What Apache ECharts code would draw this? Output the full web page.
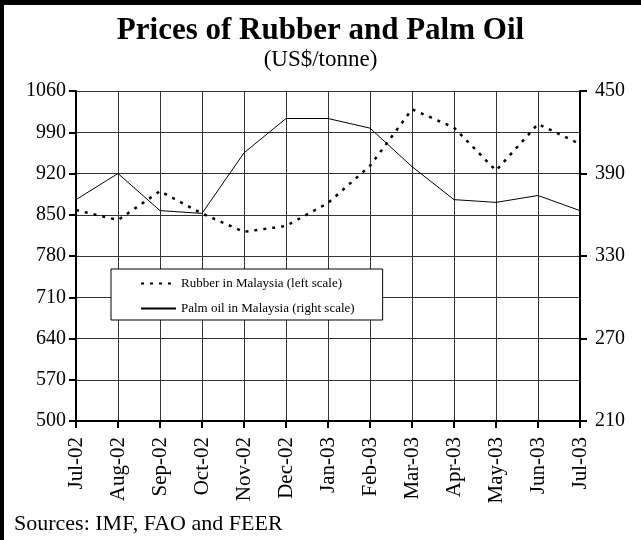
<!DOCTYPE html>
<html>
<head>
<meta charset="utf-8">
<script src="https://cdn.jsdelivr.net/npm/echarts@6/dist/echarts.min.js"></script>
<style>
  html, body { margin: 0; padding: 0; background: #fff; }
  #chart { width: 641px; height: 540px; }
</style>
</head>
<body>
<div id="chart"></div>
<script>
const months = ['Jul-02', 'Aug-02', 'Sep-02', 'Oct-02', 'Nov-02', 'Dec-02', 'Jan-03',
  'Feb-03', 'Mar-03', 'Apr-03', 'May-03', 'Jun-03', 'Jul-03']
// left scale
const rubber = [858, 841, 890, 852, 821, 831, 870, 933, 1029, 998, 925, 1004, 970]
// right scale
const palmOil = [371, 390, 363, 361, 405, 430, 430, 423, 395, 371, 369, 374, 363]

const font = "'Liberation Serif', 'Times New Roman', serif"
const chart = echarts.init(document.getElementById('chart'))

const option = {
  animation: false,
  textStyle: { fontFamily: font, color: '#000' },
  title: [
    {
      text: 'Prices of Rubber and Palm Oil',
      left: 'center',
      top: 10,
      textStyle: { fontFamily: font, fontSize: 31, fontWeight: 'bold', color: '#000' }
    },
    {
      text: '(US$/tonne)',
      left: 'center',
      top: 43,
      textStyle: { fontFamily: font, fontSize: 23, fontWeight: 'normal', color: '#000' }
    }
  ],
  legend: {
    orient: 'vertical',
    left: 111,
    top: 269,
    padding: [8, 28, 5, 29],
    itemGap: 12,
    itemWidth: 35,
    itemHeight: 14,
    backgroundColor: '#fff',
    borderColor: '#000',
    borderWidth: 1,
    itemStyle: { opacity: 0 },
    textStyle: { fontFamily: font, fontSize: 13, color: '#000' },
    data: ['Rubber in Malaysia (left scale)', 'Palm oil in Malaysia (right scale)']
  },
  grid: { left: 76, right: 61, top: 91, bottom: 119 },
  xAxis: {
    type: 'category',
    data: months,
    boundaryGap: false,
    axisLine: { lineStyle: { color: '#000', width: 2 } },
    axisTick: { show: true, length: 7, inside: false, lineStyle: { color: '#000', width: 2 } },
    axisLabel: { rotate: 90, fontSize: 21, color: '#000', fontFamily: font, margin: 16 },
    splitLine: { show: true, lineStyle: { color: '#333', width: 1 } }
  },
  yAxis: [
    {
      type: 'value',
      min: 500,
      max: 1060,
      interval: 70,
      axisLine: { show: true, lineStyle: { color: '#000', width: 2 } },
      axisTick: { show: true, length: 7, lineStyle: { color: '#000', width: 2 } },
      axisLabel: { fontSize: 20, color: '#000', fontFamily: font, margin: 10, formatter: v => String(v) },
      splitLine: { show: true, lineStyle: { color: '#333', width: 1 } }
    },
    {
      type: 'value',
      min: 210,
      max: 450,
      interval: 60,
      position: 'right',
      axisLine: { show: true, lineStyle: { color: '#000', width: 2 } },
      axisTick: { show: true, length: 7, lineStyle: { color: '#000', width: 2 } },
      axisLabel: { fontSize: 20, color: '#000', fontFamily: font, margin: 15 },
      splitLine: { show: false }
    }
  ],
  series: [
    {
      name: 'Rubber in Malaysia (left scale)',
      type: 'line',
      yAxisIndex: 0,
      data: rubber,
      symbol: 'none',
      lineStyle: { color: '#000', width: 2.5, type: [3, 6] },
      itemStyle: { color: '#000' }
    },
    {
      name: 'Palm oil in Malaysia (right scale)',
      type: 'line',
      yAxisIndex: 1,
      data: palmOil,
      symbol: 'none',
      lineStyle: { color: '#000', width: 1 },
      itemStyle: { color: '#000' }
    }
  ],
  graphic: [
    { type: 'rect', left: 0, top: 0, shape: { width: 641, height: 5 }, style: { fill: '#000' } },
    { type: 'rect', left: 0, top: 0, shape: { width: 4, height: 540 }, style: { fill: '#000' } },
    {
      type: 'text',
      left: 14,
      top: 513,
      style: { text: 'Sources: IMF, FAO and FEER', font: '22px ' + font, fill: '#000' }
    }
  ]
}

option && chart.setOption(option)
</script>
</body>
</html>
